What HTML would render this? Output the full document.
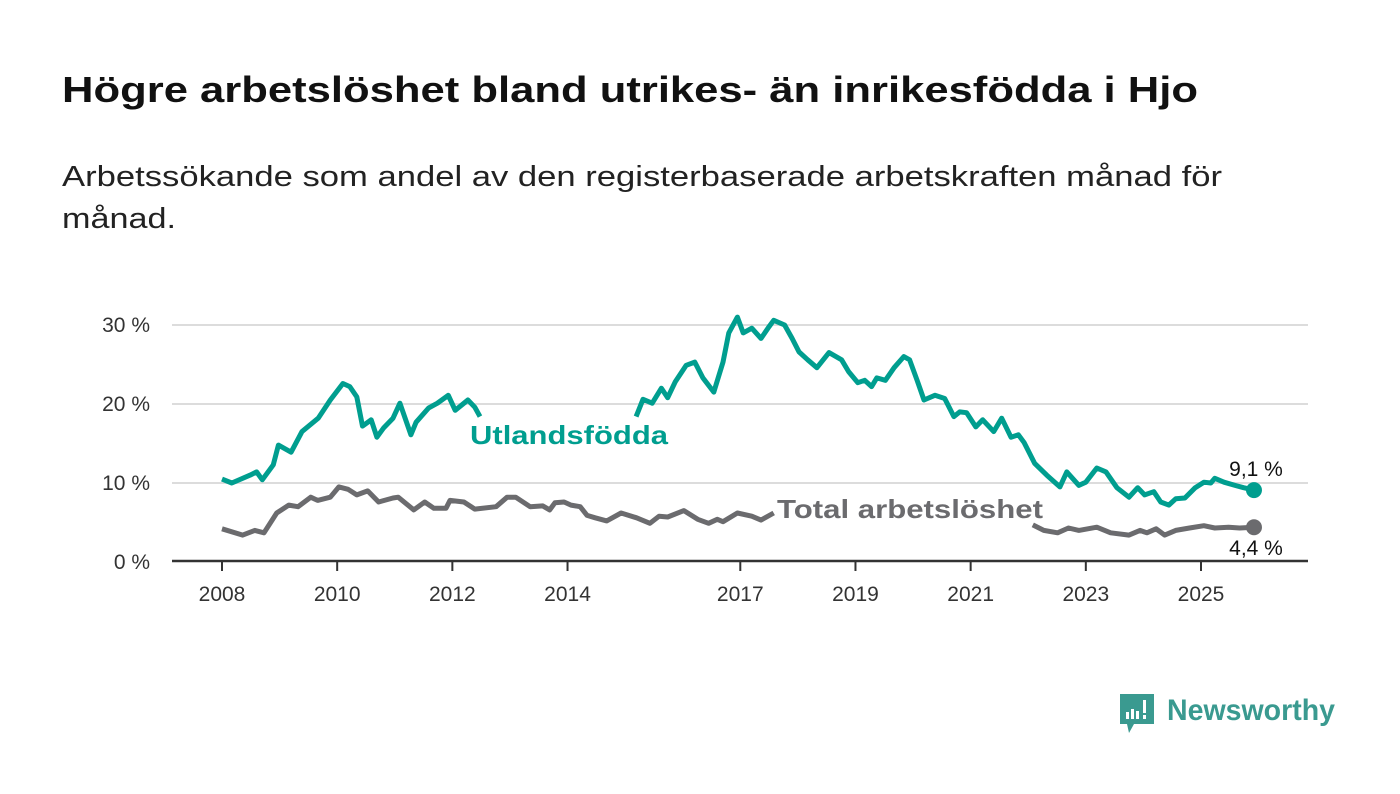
<!DOCTYPE html>
<html><head><meta charset="utf-8">
<style>
body{margin:0;background:#fff;width:1400px;height:794px;overflow:hidden;font-family:"Liberation Sans","DejaVu Sans",sans-serif;}
svg{position:absolute;left:0;top:0}
</style></head>
<body>
<svg width="1400" height="794">
<text x="62" y="102" font-size="36" font-weight="bold" fill="#111" textLength="1136" lengthAdjust="spacingAndGlyphs">Högre arbetslöshet bland utrikes- än inrikesfödda i Hjo</text>
<text x="62" y="186" font-size="29" fill="#222" textLength="1160" lengthAdjust="spacingAndGlyphs">Arbetssökande som andel av den registerbaserade arbetskraften månad för</text>
<text x="62" y="228" font-size="29" fill="#222" textLength="114" lengthAdjust="spacingAndGlyphs">månad.</text>
<g id="grid"></g>
<g id="xaxis"></g>
<g id="lines"></g>
<g id="labels"></g>
<g>
<path d="M1120 694 h34 v30 h-20 l-5 9 l-2 -9 h-7 z" fill="#3a9a90"/>
<rect x="1126" y="712" width="3" height="7" fill="#fff"/><rect x="1131" y="709" width="3" height="10" fill="#fff"/><rect x="1136" y="711" width="3" height="8" fill="#fff"/><rect x="1143" y="700" width="3" height="13" fill="#fff"/><rect x="1143" y="715" width="3" height="4" fill="#fff"/>
<text x="1167" y="720" font-size="30" font-weight="bold" fill="#3a9a90" textLength="168" lengthAdjust="spacingAndGlyphs">Newsworthy</text>
</g>
</svg>
<script>
const yTicks=[0,10,20,30];
const yTickLabels=["0 %","10 %","20 %","30 %"];
const xTicks=[2008,2010,2012,2014,2017,2019,2021,2023,2025];
const foreignX=[2008.0,2008.17,2008.49,2008.6,2008.7,2008.89,2008.98,2009.2,2009.39,2009.67,2009.88,2010.1,2010.22,2010.34,2010.44,2010.59,2010.69,2010.81,2010.97,2011.09,2011.28,2011.37,2011.59,2011.74,2011.93,2012.05,2012.27,2012.39,2012.48,2012.6,2015.15,2015.19,2015.31,2015.47,2015.63,2015.74,2015.87,2016.06,2016.21,2016.35,2016.54,2016.7,2016.8,2016.95,2017.05,2017.2,2017.36,2017.5,2017.58,2017.77,2017.9,2018.02,2018.17,2018.33,2018.54,2018.76,2018.88,2019.04,2019.16,2019.28,2019.37,2019.52,2019.67,2019.84,2019.94,2020.07,2020.19,2020.38,2020.55,2020.71,2020.81,2020.93,2021.09,2021.21,2021.4,2021.54,2021.7,2021.83,2021.93,2022.11,2022.32,2022.55,2022.67,2022.88,2023.0,2023.19,2023.35,2023.54,2023.75,2023.9,2024.02,2024.18,2024.3,2024.44,2024.56,2024.72,2024.9,2025.05,2025.17,2025.24,2025.4,2025.59,2025.74,2025.92];
const foreignY=[10.5,10.0,11.0,11.4,10.4,12.3,14.8,13.9,16.5,18.2,20.5,22.6,22.2,20.9,17.2,18.0,15.8,17.0,18.2,20.1,16.1,17.7,19.5,20.1,21.1,19.2,20.5,19.6,18.4,null,null,18.4,20.6,20.1,22.0,20.8,22.8,24.9,25.3,23.3,21.5,25.3,29.0,31.0,29.0,29.6,28.3,29.8,30.6,30.0,28.3,26.6,25.6,24.6,26.5,25.6,24.1,22.7,23.0,22.2,23.3,23.0,24.6,26.0,25.6,23.0,20.5,21.1,20.7,18.4,19.0,18.9,17.1,18.0,16.5,18.2,15.8,16.1,15.1,12.5,11.0,9.5,11.4,9.7,10.1,11.9,11.4,9.4,8.2,9.4,8.5,8.9,7.6,7.2,8.0,8.1,9.4,10.1,10.0,10.6,10.1,9.7,9.4,9.1];
const totalX=[2008.0,2008.36,2008.57,2008.73,2008.95,2009.16,2009.32,2009.54,2009.66,2009.88,2010.03,2010.19,2010.34,2010.53,2010.72,2010.97,2011.06,2011.33,2011.52,2011.68,2011.89,2011.96,2012.2,2012.39,2012.76,2012.95,2013.1,2013.35,2013.57,2013.69,2013.78,2013.94,2014.06,2014.22,2014.34,2014.48,2014.68,2014.93,2015.2,2015.43,2015.59,2015.74,2016.02,2016.26,2016.45,2016.6,2016.7,2016.95,2017.2,2017.36,2017.58,2017.65,2022.0,2022.08,2022.27,2022.51,2022.7,2022.88,2023.19,2023.43,2023.75,2023.94,2024.06,2024.22,2024.37,2024.56,2024.8,2025.05,2025.24,2025.48,2025.67,2025.92];
const totalY=[4.2,3.4,4.0,3.7,6.2,7.2,7.0,8.2,7.8,8.2,9.5,9.2,8.5,9.0,7.6,8.1,8.2,6.6,7.6,6.8,6.8,7.8,7.6,6.7,7.0,8.2,8.2,7.0,7.1,6.6,7.5,7.6,7.2,7.0,5.9,5.6,5.2,6.2,5.6,4.9,5.8,5.7,6.5,5.4,4.9,5.4,5.1,6.2,5.8,5.3,6.2,null,null,4.7,4.0,3.7,4.3,4.0,4.4,3.7,3.4,4.0,3.7,4.2,3.4,4.0,4.3,4.6,4.3,4.4,4.3,4.4];

const NS="http://www.w3.org/2000/svg";
const X0=172,X1=1308;
const sx=y=>222+(y-2008)*(1201-222)/17;
const sy=v=>562-v*7.9;
function mk(tag,attrs,parent){const e=document.createElementNS(NS,tag);for(const k in attrs)e.setAttribute(k,attrs[k]);parent.appendChild(e);return e;}
const grid=document.getElementById('grid'),xa=document.getElementById('xaxis'),ln=document.getElementById('lines'),lb=document.getElementById('labels');
yTicks.forEach((t,i)=>{
  if(t>0){const g=mk('line',{x1:X0,x2:X1,y1:sy(t),y2:sy(t),stroke:'#dcdcdc','stroke-width':2},grid);
  
  }
  const tx=mk('text',{x:150,y:sy(t)+7,'text-anchor':'end','font-size':21,fill:'#333'},grid);
  tx.textContent=yTickLabels[i];
  
  
});
const ax=mk('line',{x1:X0,x2:X1,y1:561,y2:561,stroke:'#333','stroke-width':2.5},xa);


xTicks.forEach(t=>{
  mk('line',{x1:sx(t),x2:sx(t),y1:561,y2:571,stroke:'#333','stroke-width':2},xa);
  const tx=mk('text',{x:sx(t),y:601,'text-anchor':'middle','font-size':21,fill:'#333'},xa);
  tx.textContent=t;
  
  
});
function path(xs,ys){let d='',pen=false;xs.forEach((x,i)=>{if(ys[i]==null){pen=false;return;}d+=(pen?'L':'M')+sx(x).toFixed(1)+' '+sy(ys[i]).toFixed(1);pen=true;});return d;}
const pt=mk('path',{d:path(totalX,totalY),fill:'none',stroke:'#6b6b6e','stroke-width':5,'stroke-linejoin':'round'},ln);


const pf=mk('path',{d:path(foreignX,foreignY),fill:'none',stroke:'#009e8f','stroke-width':5,'stroke-linejoin':'round'},ln);


const lf=foreignX.length-1,lt=totalX.length-1;
const d1=mk('circle',{cx:sx(foreignX[lf]),cy:sy(foreignY[lf]),r:8,fill:'#009e8f'},ln);


const d2=mk('circle',{cx:sx(totalX[lt]),cy:sy(totalY[lt]),r:8,fill:'#6b6b6e'},ln);


const v1=mk('text',{x:1256,y:sy(foreignY[lf])-14,'text-anchor':'middle','font-size':21,fill:'#111'},lb);
v1.textContent=foreignY[lf].toFixed(1).replace('.',',')+' %';


const v2=mk('text',{x:1256,y:sy(totalY[lt])+28,'text-anchor':'middle','font-size':21,fill:'#111'},lb);
v2.textContent=totalY[lt].toFixed(1).replace('.',',')+' %';


const l1=mk('text',{x:470,y:444,'font-size':26,'font-weight':'bold',fill:'#009e8f',stroke:'#fff','stroke-width':6,'paint-order':'stroke',textLength:198,lengthAdjust:'spacingAndGlyphs'},lb);
l1.textContent='Utlandsfödda';


const l2=mk('text',{x:777,y:518,'font-size':26,'font-weight':'bold',fill:'#6b6b6e',stroke:'#fff','stroke-width':6,'paint-order':'stroke',textLength:266,lengthAdjust:'spacingAndGlyphs'},lb);
l2.textContent='Total arbetslöshet';


</script>
</body></html>
